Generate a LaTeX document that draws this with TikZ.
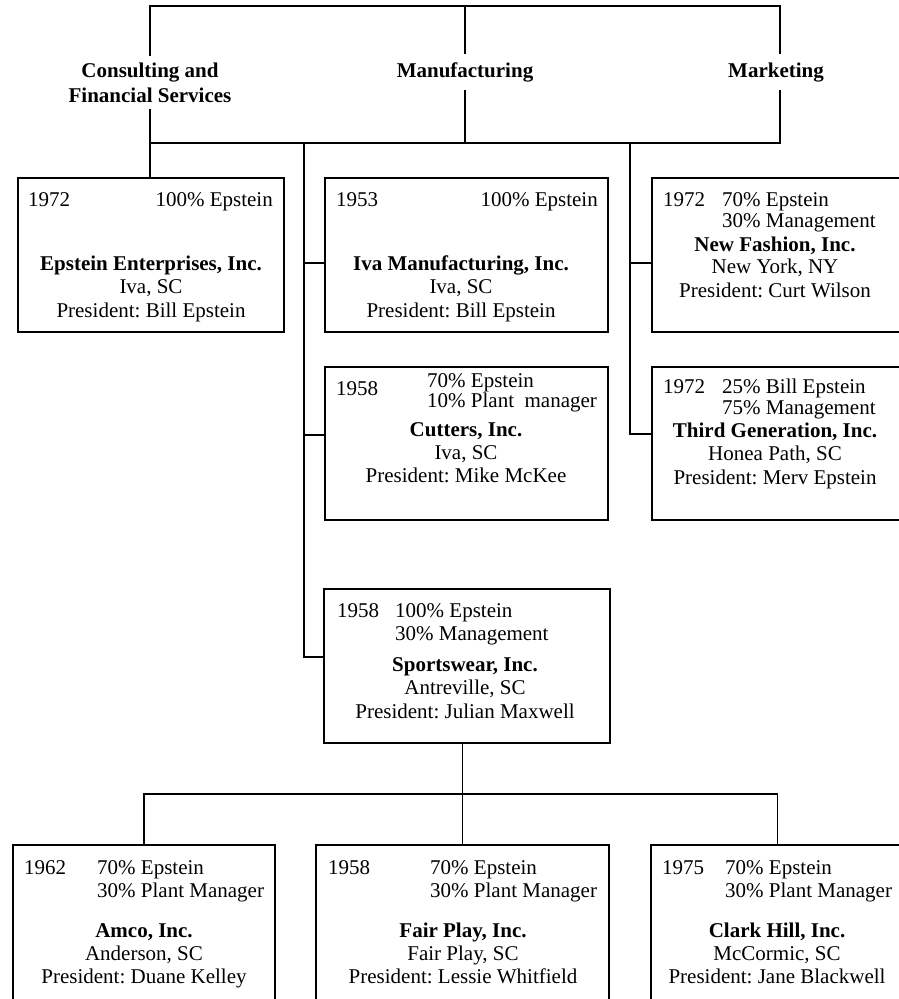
\documentclass[tikz,border=0pt]{standalone}
\usepackage{fontspec}
\setmainfont{Liberation Serif}
\frenchspacing
\begin{document}
\begin{tikzpicture}[x=1pt,y=-1pt,
  conn/.style={line width=1.1pt},
  cobox/.style={draw,line width=2.6pt,inner sep=0pt},
  txt/.style={inner sep=0pt,font=\fontsize{21}{24}\selectfont},
  btxt/.style={inner sep=0pt,font=\fontsize{21}{24}\selectfont\bfseries},
  lbl/.style={font=\fontsize{21}{25}\selectfont\bfseries,inner xsep=4pt,inner ysep=8pt}]
\useasboundingbox (0,0) rectangle (899,999);

% coordinates of the frame
\coordinate (tl) at (150,6);
\coordinate (tm) at (465,6);
\coordinate (tr) at (780,6);
\coordinate (bm) at (465,143);
\coordinate (br) at (780,143);
\coordinate (mt) at (304,143);
\coordinate (kt) at (630,143);
\coordinate (hb) at (0,794);

% division labels
\node[lbl,align=center,inner ysep=6pt] (consult) at (150,82.5) {Consulting and\\Financial Services};
\node[lbl,anchor=base] (manuf) at (465,77) {Manufacturing};
\node[lbl,anchor=base] (market) at (776,77) {Marketing};

% boxes
\node[cobox,minimum width=266,minimum height=154] (ep) at (151,255) {};
\node[cobox,minimum width=283,minimum height=154] (iva) at (466.5,255) {};
\node[cobox,minimum width=283,minimum height=153] (cut) at (466.5,443.5) {};
\node[cobox,minimum width=252,minimum height=154] (nf) at (778,255) {};
\node[cobox,minimum width=252,minimum height=153] (tg) at (778,443.5) {};
\node[cobox,minimum width=286,minimum height=154] (sw) at (467,666) {};
\node[cobox,minimum width=262,minimum height=156] (amco) at (144,923) {};
\node[cobox,minimum width=293,minimum height=156] (fp) at (462.5,923) {};
\node[cobox,minimum width=253,minimum height=156] (ch) at (777.5,923) {};

% Epstein Enterprises
\node[txt,anchor=base west] (ep1) at (28,206) {1972};
\node[txt,anchor=base east] (ep2) at (273,206) {100\% Epstein};
\node[btxt,anchor=base] (ep3) at (151,270) {Epstein Enterprises, Inc.};
\node[txt,anchor=base] (ep4) at (151,293.5) {Iva, SC};
\node[txt,anchor=base] (ep5) at (151,317) {President: Bill Epstein};

% Iva Manufacturing
\node[txt,anchor=base west] (iva1) at (336,206) {1953};
\node[txt,anchor=base east] (iva2) at (598,206) {100\% Epstein};
\node[btxt,anchor=base] (iva3) at (461,270) {Iva Manufacturing, Inc.};
\node[txt,anchor=base] (iva4) at (461,293.5) {Iva, SC};
\node[txt,anchor=base] (iva5) at (461,317) {President: Bill Epstein};

% Cutters
\node[txt,anchor=base west] (cut1) at (336,395) {1958};
\node[txt,anchor=base west] (cut2) at (427,387) {70\% Epstein};
\node[txt,anchor=base west] (cut3) at (427,407) {10\% Plant\ \ manager};
\node[btxt,anchor=base] (cut4) at (466,436) {Cutters, Inc.};
\node[txt,anchor=base] (cut5) at (466,459) {Iva, SC};
\node[txt,anchor=base] (cut6) at (466,482) {President: Mike McKee};

% New Fashion
\node[txt,anchor=base west] (nf1) at (663,206) {1972};
\node[txt,anchor=base west] (nf2) at (722,206) {70\% Epstein};
\node[txt,anchor=base west] (nf3) at (722,227) {30\% Management};
\node[btxt,anchor=base] (nf4) at (775,251) {New Fashion, Inc.};
\node[txt,anchor=base] (nf5) at (775,273) {New York, NY};
\node[txt,anchor=base] (nf6) at (775,297) {President: Curt Wilson};

% Third Generation
\node[txt,anchor=base west] (tg1) at (663,393) {1972};
\node[txt,anchor=base west] (tg2) at (722,393) {25\% Bill Epstein};
\node[txt,anchor=base west] (tg3) at (722,414) {75\% Management};
\node[btxt,anchor=base] (tg4) at (775,437) {Third Generation, Inc.};
\node[txt,anchor=base] (tg5) at (775,460) {Honea Path, SC};
\node[txt,anchor=base] (tg6) at (775,484) {President: Merv Epstein};

% Sportswear
\node[txt,anchor=base west] (sw1) at (337,617) {1958};
\node[txt,anchor=base west] (sw2) at (395,617) {100\% Epstein};
\node[txt,anchor=base west] (sw3) at (395,640) {30\% Management};
\node[btxt,anchor=base] (sw4) at (465,671) {Sportswear, Inc.};
\node[txt,anchor=base] (sw5) at (465,694) {Antreville, SC};
\node[txt,anchor=base] (sw6) at (465,718) {President: Julian Maxwell};

% Amco
\node[txt,anchor=base west] (am1) at (24,874) {1962};
\node[txt,anchor=base west] (am2) at (97,874) {70\% Epstein};
\node[txt,anchor=base west] (am3) at (97,897) {30\% Plant Manager};
\node[btxt,anchor=base] (am4) at (144,937) {Amco, Inc.};
\node[txt,anchor=base] (am5) at (144,960) {Anderson, SC};
\node[txt,anchor=base] (am6) at (144,983) {President: Duane Kelley};

% Fair Play
\node[txt,anchor=base west] (fp1) at (328,874) {1958};
\node[txt,anchor=base west] (fp2) at (430,874) {70\% Epstein};
\node[txt,anchor=base west] (fp3) at (430,897) {30\% Plant Manager};
\node[btxt,anchor=base] (fp4) at (463,937) {Fair Play, Inc.};
\node[txt,anchor=base] (fp5) at (463,960) {Fair Play, SC};
\node[txt,anchor=base] (fp6) at (463,983) {President: Lessie Whitfield};

% Clark Hill
\node[txt,anchor=base west] (ch1) at (662,874) {1975};
\node[txt,anchor=base west] (ch2) at (725,874) {70\% Epstein};
\node[txt,anchor=base west] (ch3) at (725,897) {30\% Plant Manager};
\node[btxt,anchor=base] (ch4) at (777,937) {Clark Hill, Inc.};
\node[txt,anchor=base] (ch5) at (777,960) {McCormic, SC};
\node[txt,anchor=base] (ch6) at (777,983) {President: Jane Blackwell};

% frame connectors
\draw[conn] (consult.north) |- (tr) -- (tr |- market.north);
\draw[conn] (tm) -- (manuf.north);
\draw[conn] (manuf.south) -- (bm);
\draw[conn] (consult.south) |- (br) -- (br |- market.south);
\draw[conn] (consult.south |- br) -- (consult.south |- ep.north);

% manufacturing trunk
\coordinate (ivaL) at ([yshift=-8pt]iva.west);
\coordinate (cutL) at ([yshift=8.5pt]cut.west);
\coordinate (swL) at ([yshift=9pt]sw.west);
\draw[conn] (mt) |- (swL);
\draw[conn] (mt |- ivaL) -- (ivaL);
\draw[conn] (mt |- cutL) -- (cutL);

% marketing trunk
\coordinate (nfL) at ([yshift=-8pt]nf.west);
\coordinate (tgL) at ([yshift=9.5pt]tg.west);
\draw[conn] (kt) |- (tgL);
\draw[conn] (kt |- nfL) -- (nfL);

% sportswear subsidiaries
\draw[conn] (sw.south -| fp.north) -- (fp.north);
\draw[conn] (amco.north) -- (amco.north |- hb) -- (ch.north |- hb) -- (ch.north);
\end{tikzpicture}
\end{document}
